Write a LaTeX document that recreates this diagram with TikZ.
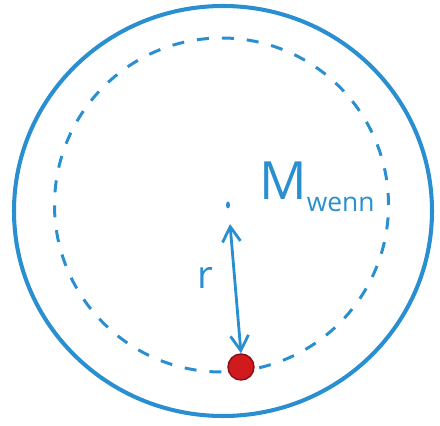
\documentclass[tikz,border=0pt]{standalone}
\usepackage{fontspec}
\setsansfont{Open Sans}
\usepackage{tikz}
\usetikzlibrary{positioning, arrows.meta, shapes.geometric}
\definecolor{penBlue}{HTML}{2A8FD0}
\definecolor{massRed}{HTML}{D01A1E}
\definecolor{massEdge}{HTML}{8E0E12}

\begin{document}
\begin{tikzpicture}[font=\sffamily,
  shell/.style={draw=penBlue, line width=2.3pt},
  orbit/.style={draw=penBlue, line width=1.7pt, dash pattern=on 0.24cm off 0.26cm},
  radius/.style={draw=penBlue, line width=1.6pt, {Straight Barb[length=0.3cm, width=0.36cm]}-{Straight Barb[length=0.3cm, width=0.36cm]}},
  label/.style={text=penBlue, inner sep=0pt}]
  \useasboundingbox (0,0) rectangle (8.8,8.52);
  % outer sphere and the dashed shell of radius r
  \draw[shell] (4.46,4.30) ellipse [x radius=4.18cm, y radius=4.10cm];
  \draw[orbit] (4.43,4.42) circle (3.34cm);
  % centre and test mass
  \node[ellipse, fill=penBlue, inner sep=0pt, minimum width=0.08cm, minimum height=0.14cm] (ctr) at (4.56,4.42) {};
  \node[circle, fill=massRed, draw=massEdge, line width=0.8pt, minimum size=0.52cm, inner sep=0pt] (mass) at (4.82,1.18) {};
  \coordinate (top) at (4.60,4.04);
  \draw[radius] (top) -- (mass.north);
  % labels
  \node[label, font=\sffamily\fontsize{22}{22}\selectfont] (rlab) at (4.10,2.96) {r};
  \node[label, anchor=base west, font=\sffamily\fontsize{30}{30}\selectfont] (mlab) at (5.18,4.52) {M\raisebox{-0.24cm}{\fontsize{15}{15}\selectfont wenn}};
\end{tikzpicture}
\end{document}
